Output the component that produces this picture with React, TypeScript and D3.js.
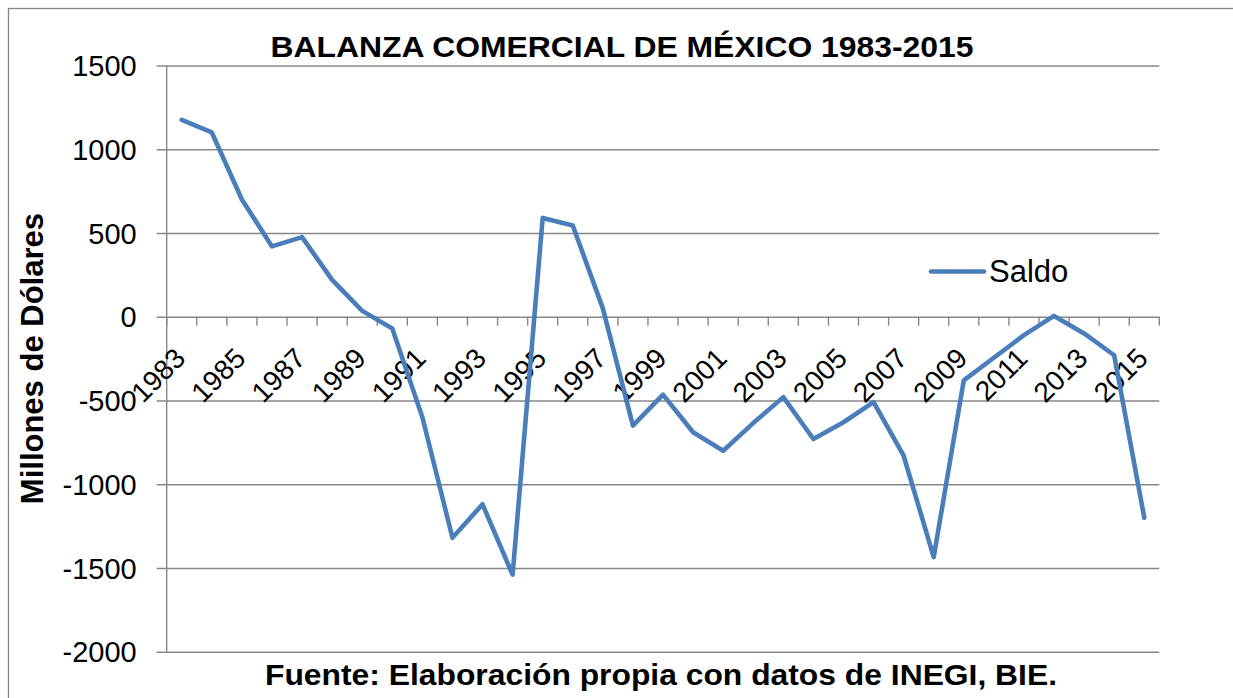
import React, { useEffect, useRef } from "react";
import * as d3 from "d3";

// data
const years = [
  "1983", "1984", "1985", "1986", "1987", "1988", "1989", "1990", "1991", "1992", "1993",
  "1994", "1995", "1996", "1997", "1998", "1999", "2000", "2001", "2002", "2003", "2004",
  "2005", "2006", "2007", "2008", "2009", "2010", "2011", "2012", "2013", "2014", "2015",
];
const saldo = [
  1175, 1100, 700, 420, 475, 220, 35, -70, -600, -1320, -1120,
  -1540, 590, 545, 50, -650, -465, -690, -800, -635, -480, -730,
  -630, -510, -830, -1435, -380, -245, -110, 5, -100, -230, -1200,
];
const yTicks = [1500, 1000, 500, 0, -500, -1000, -1500, -2000];
const seriesName = "Saldo";
const chartTitle = "BALANZA COMERCIAL DE MÉXICO 1983-2015";
const yTitle = "Millones de Dólares";
const footer = "Fuente: Elaboración propia con datos de INEGI, BIE.";

const W = 1233;
const H = 698;
const FONT = "'Liberation Sans', Arial, sans-serif";
const GRID = "#878787";
const BLUE = "#4a7ebb";

const App = () => {
  const ref = useRef<SVGSVGElement>(null);

  useEffect(() => {
    const svg = d3.select(ref.current);
    svg.selectAll("*").remove();

    const plot = { left: 166.7, right: 1159.3, top: 65.5, bottom: 651.7 };

    const x = d3.scaleBand().domain(years).range([plot.left, plot.right]);
    const y = d3.scaleLinear().domain([-2000, 1500]).range([plot.bottom, plot.top]);

    // outer chart border
    svg.append("rect")
      .attr("x", 8.5).attr("y", 8.5)
      .attr("width", W + 20).attr("height", H + 20)
      .attr("fill", "white").attr("stroke", GRID).attr("stroke-width", 1.3);

    // horizontal gridlines + y labels
    const yAxis = d3.axisLeft(y)
      .tickValues(yTicks)
      .tickSize(-(plot.right - plot.left))
      .tickPadding(20)
      .tickFormat((d) => String(d));
    const gy = svg.append("g")
      .attr("transform", `translate(${plot.left},0)`)
      .call(yAxis);
    gy.select(".domain").remove();
    gy.selectAll(".tick line")
      .attr("stroke", GRID).attr("stroke-width", 1.4)
      .attr("x1", -10);
    gy.selectAll(".tick text")
      .attr("font-family", FONT).attr("font-size", 29).attr("fill", "#000")
      .attr("x", -30).attr("dy", "0.35em");

    // vertical axis line
    svg.append("line")
      .attr("x1", plot.left).attr("x2", plot.left)
      .attr("y1", plot.top).attr("y2", plot.bottom)
      .attr("stroke", GRID).attr("stroke-width", 1.4);

    // category axis at zero with ticks at boundaries
    const y0 = y(0);
    const bounds = years.map((yr) => x(yr) as number).concat([plot.right]);
    svg.append("g")
      .selectAll("line")
      .data(bounds)
      .join("line")
      .attr("x1", (d) => d).attr("x2", (d) => d)
      .attr("y1", y0).attr("y2", y0 + 9)
      .attr("stroke", GRID).attr("stroke-width", 1.4);

    // rotated labels every other year
    svg.append("g")
      .selectAll("text")
      .data(years.filter((_, i) => i % 2 === 0))
      .join("text")
      .attr("transform", (d) => {
        const cx = (x(d) as number) + x.bandwidth() / 2;
        return `translate(${cx - 9},${y0 + 29}) rotate(-45)`;
      })
      .attr("text-anchor", "end")
      .attr("dy", "0.72em")
      .attr("font-family", FONT).attr("font-size", 28).attr("fill", "#000")
      .text((d) => d);

    // series line
    const line = d3.line<number>()
      .x((_, i) => (x(years[i]) as number) + x.bandwidth() / 2)
      .y((d) => y(d));
    svg.append("path")
      .datum(saldo)
      .attr("fill", "none")
      .attr("stroke", BLUE)
      .attr("stroke-width", 4.6)
      .attr("stroke-linejoin", "round")
      .attr("stroke-linecap", "round")
      .attr("d", line);

    // legend
    svg.append("line")
      .attr("x1", 931).attr("x2", 984)
      .attr("y1", 271.5).attr("y2", 271.5)
      .attr("stroke", BLUE).attr("stroke-width", 4.6)
      .attr("stroke-linecap", "round");
    svg.append("text")
      .attr("x", 989).attr("y", 282)
      .attr("font-family", FONT).attr("font-size", 31)
      .text(seriesName);

    // title
    svg.append("text")
      .attr("x", 270.5).attr("y", 56.7)
      .attr("font-family", FONT).attr("font-size", 30).attr("font-weight", "bold")
      .attr("textLength", 703).attr("lengthAdjust", "spacingAndGlyphs")
      .text(chartTitle);

    // y axis title
    svg.append("text")
      .attr("transform", `translate(43,${(plot.top + plot.bottom) / 2}) rotate(-90)`)
      .attr("text-anchor", "middle")
      .attr("font-family", FONT).attr("font-size", 31).attr("font-weight", "bold")
      .text(yTitle);

    // footer
    svg.append("text")
      .attr("x", 265).attr("y", 685)
      .attr("font-family", FONT).attr("font-size", 30).attr("font-weight", "bold")
      .attr("textLength", 792).attr("lengthAdjust", "spacingAndGlyphs")
      .text(footer);
  }, []);

  return (
    <svg
      ref={ref}
      width={W}
      height={H}
      style={{ position: "absolute", left: 0, top: 0, background: "white" }}
    />
  );
};

export default App;
